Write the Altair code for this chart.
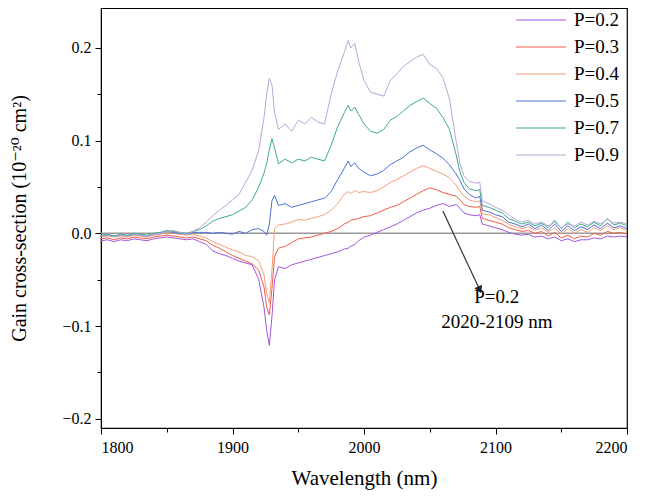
import altair as alt
import pandas as pd

wavelength = [1800,1805,1810,1815,1820,1825,1830,1835,1840,1845,1850,1855,1860,1865,1870,1875,
              1880,1885,1890,1895,1900,1905,1910,1915,1920,
              1924,1926,1928,1930,1932,1935,
              1940,1945,1950,1955,1960,1965,1970,1975,1980,1985,
              1988,1990,1993,1996,
              2000,2005,2010,2015,2020,2025,2030,2035,2040,2045,2050,2055,2060,2065,2070,
              2073,2076,2080,2085,2088,2090,
              2095,2100,2105,2110,2115,2120,2125,2130,2135,2140,2145,2150,2155,2160,2165,2170,2175,2180,2185,2190,2195,2200]

p09 = [-0.003,-0.002,-0.004,-0.002,-0.003,-0.001,-0.002,-0.003,-0.001,0.000,0.002,0.003,0.001,-0.001,0.002,0.006,
       0.012,0.019,0.025,0.030,0.036,0.042,0.055,0.068,0.090,
       0.125,0.150,0.167,0.160,0.130,0.112,
       0.118,0.110,0.122,0.118,0.125,0.120,0.118,0.150,0.175,0.195,
       0.208,0.200,0.205,0.185,
       0.165,0.152,0.150,0.148,0.165,0.172,0.180,0.185,0.190,0.193,0.182,0.178,0.168,0.145,0.100,
       0.075,0.062,0.056,0.054,0.055,0.035,
       0.032,0.028,0.025,0.020,0.015,0.012,0.014,0.010,0.012,0.008,0.012,0.006,0.010,0.008,0.012,0.009,0.013,0.010,0.015,0.011,0.012,0.010]

p07 = [-0.002,-0.001,-0.003,-0.001,-0.002,0.000,-0.001,-0.002,0.000,0.001,0.003,0.002,0.001,0.000,0.002,0.004,
       0.008,0.013,0.016,0.018,0.020,0.024,0.028,0.036,0.050,
       0.065,0.075,0.090,0.102,0.092,0.075,
       0.080,0.076,0.080,0.078,0.082,0.080,0.078,0.095,0.115,0.130,
       0.138,0.132,0.136,0.128,
       0.118,0.110,0.108,0.112,0.122,0.126,0.132,0.138,0.142,0.146,0.140,0.135,0.125,0.112,0.085,
       0.066,0.055,0.048,0.046,0.047,0.030,
       0.028,0.025,0.022,0.016,0.013,0.010,0.012,0.008,0.011,0.006,0.014,0.005,0.012,0.006,0.010,0.007,0.012,0.008,0.016,0.009,0.011,0.008]

p05 = [-0.003,-0.002,-0.003,-0.002,-0.003,-0.001,-0.002,-0.003,-0.001,0.000,0.002,0.001,0.000,-0.001,0.001,0.001,
       0.001,0.000,0.001,0.000,-0.001,0.002,0.000,0.004,0.005,
       0.002,-0.002,0.010,0.035,0.041,0.030,
       0.032,0.028,0.030,0.032,0.034,0.036,0.038,0.045,0.058,0.070,
       0.078,0.072,0.076,0.070,
       0.066,0.062,0.064,0.068,0.074,0.078,0.082,0.088,0.092,0.095,0.090,0.086,0.081,0.074,0.064,
       0.057,0.048,0.042,0.038,0.040,0.025,
       0.023,0.020,0.018,0.012,0.010,0.007,0.010,0.005,0.009,0.003,0.010,0.002,0.008,0.003,0.007,0.004,0.009,0.005,0.011,0.006,0.008,0.005]

p04 = [-0.004,-0.003,-0.004,-0.003,-0.004,-0.002,-0.003,-0.004,-0.002,-0.001,0.001,0.000,-0.001,-0.002,-0.001,-0.003,
       -0.005,-0.009,-0.012,-0.015,-0.018,-0.020,-0.024,-0.025,-0.030,
       -0.045,-0.065,-0.075,-0.040,0.005,0.009,
       0.010,0.012,0.015,0.014,0.016,0.018,0.020,0.025,0.032,0.042,
       0.045,0.043,0.046,0.044,
       0.045,0.044,0.046,0.050,0.055,0.058,0.062,0.066,0.070,0.073,0.070,0.067,0.064,0.060,0.052,
       0.046,0.040,0.036,0.034,0.035,0.021,
       0.020,0.017,0.014,0.010,0.007,0.005,0.007,0.003,0.006,0.001,0.006,-0.001,0.005,0.000,0.004,0.001,0.006,0.003,0.008,0.004,0.006,0.003]

p03 = [-0.006,-0.005,-0.007,-0.005,-0.006,-0.004,-0.005,-0.006,-0.004,-0.003,-0.002,-0.003,-0.004,-0.005,-0.004,-0.006,
       -0.008,-0.013,-0.016,-0.020,-0.024,-0.027,-0.030,-0.033,-0.040,
       -0.058,-0.080,-0.088,-0.060,-0.025,-0.016,
       -0.014,-0.010,-0.006,-0.005,-0.004,-0.002,0.000,0.002,0.005,0.010,
       0.012,0.014,0.015,0.016,
       0.018,0.019,0.022,0.025,0.028,0.030,0.034,0.038,0.042,0.046,0.049,0.047,0.044,0.042,0.040,
       0.036,0.031,0.029,0.028,0.029,0.016,
       0.014,0.012,0.010,0.006,0.004,0.002,0.003,0.000,0.002,-0.003,0.001,-0.005,-0.002,-0.006,-0.003,-0.004,0.000,-0.002,0.002,0.000,0.001,-0.001]

p02 = [-0.008,-0.007,-0.009,-0.007,-0.008,-0.006,-0.007,-0.008,-0.006,-0.005,-0.004,-0.005,-0.006,-0.007,-0.006,-0.009,
       -0.012,-0.019,-0.022,-0.024,-0.027,-0.030,-0.032,-0.034,-0.050,
       -0.080,-0.105,-0.121,-0.090,-0.050,-0.036,
       -0.038,-0.034,-0.032,-0.030,-0.028,-0.026,-0.024,-0.022,-0.020,-0.017,
       -0.016,-0.014,-0.012,-0.008,
       -0.004,-0.002,0.001,0.004,0.007,0.010,0.014,0.018,0.022,0.025,0.027,0.030,0.032,0.029,0.031,
       0.027,0.022,0.020,0.019,0.020,0.010,
       0.008,0.006,0.004,0.001,-0.001,-0.002,-0.001,-0.004,-0.003,-0.006,-0.004,-0.008,-0.006,-0.009,-0.007,-0.007,-0.005,-0.006,-0.003,-0.004,-0.003,-0.004]

series_names = ["P=0.2", "P=0.3", "P=0.4", "P=0.5", "P=0.7", "P=0.9"]
series_values = [p02, p03, p04, p05, p07, p09]
series_colors = ["#a455e0", "#f05a4a", "#f4a07a", "#4a6fd8", "#3aaa90", "#b6a8d8"]

x_major = [1800, 1900, 2000, 2100, 2200]
x_minor = [1850, 1950, 2050, 2150]
y_major = [-0.2, -0.1, 0.0, 0.1, 0.2]
y_minor = [-0.15, -0.05, 0.05, 0.15]

arrow_x = [2060]
arrow_y = [0.024]
arrow_x2 = [2088]
arrow_y2 = [-0.061]
note_lines = ["P=0.2", "2020-2109 nm"]
note_x = [2101, 2101]
note_y = [-0.069, -0.096]

rows = []
for name, vals in zip(series_names, series_values):
    for w, v in zip(wavelength, vals):
        rows.append({"wl": w, "g": v, "series": name})
df = pd.DataFrame(rows)

FONT = "Liberation Serif, Times New Roman, Times, DejaVu Serif, serif"
xdom = [1800, 2200]
ydom = [-0.21, 0.243]

xs = alt.Scale(domain=xdom, nice=False, zero=False)
ys = alt.Scale(domain=ydom, nice=False, zero=False)

x_axis = alt.Axis(values=x_major, format="d", title="Wavelength (nm)", grid=False,
                  tickSize=6, labelFontSize=16, titleFontSize=21, titlePadding=12,
                  labelPadding=5, orient="bottom", labelFont=FONT, titleFont=FONT)
y_axis = alt.Axis(values=y_major, format=".1f", title="Gain cross-section (10⁻²⁰ cm²)", grid=False,
                  tickSize=6, labelFontSize=16, titleFontSize=20, titlePadding=32,
                  labelPadding=4, orient="left", labelFont=FONT, titleFont=FONT)

zero = alt.Chart(pd.DataFrame({"z": [0.0]})).mark_rule(color="#9a9a9a", strokeWidth=1.5).encode(
    y=alt.Y("z:Q", scale=ys, axis=y_axis)
)

lines = alt.Chart(df).mark_line(strokeWidth=1).encode(
    x=alt.X("wl:Q", scale=xs, axis=x_axis),
    y=alt.Y("g:Q", scale=ys, axis=y_axis),
    color=alt.Color("series:N",
                    scale=alt.Scale(domain=series_names, range=series_colors),
                    sort=series_names,
                    legend=alt.Legend(title=None, orient="none", legendX=429, legendY=1,
                                      symbolType="M-2.5,0H2.5", symbolSize=400, symbolStrokeWidth=1.2,
                                      labelFontSize=19, labelOffset=22, rowPadding=6,
                                      labelFont=FONT, labelColor="black")),
    detail="series:N",
    order="wl:Q",
)

arrow_df = pd.DataFrame({"x": arrow_x, "y": arrow_y, "x2": arrow_x2, "y2": arrow_y2})
arrow_line = alt.Chart(arrow_df).mark_rule(color="#333333", strokeWidth=1.2).encode(
    x=alt.X("x:Q", scale=xs), y=alt.Y("y:Q", scale=ys), x2="x2:Q", y2="y2:Q"
)
arrow_head = alt.Chart(arrow_df).mark_point(shape="triangle-up", filled=True, color="#222222",
                                            size=70, angle=155, opacity=1).encode(
    x=alt.X("x2:Q", scale=xs), y=alt.Y("y2:Q", scale=ys)
)

note_df = pd.DataFrame({"t": note_lines, "x": note_x, "y": note_y})
note = alt.Chart(note_df).mark_text(font=FONT, fontSize=19, color="black", align="center",
                                    baseline="middle").encode(
    x=alt.X("x:Q", scale=xs), y=alt.Y("y:Q", scale=ys), text="t:N"
)

minor_df = pd.DataFrame({"x": [2000], "y": [0.0]})
minor = alt.Chart(minor_df).mark_point(opacity=0).encode(
    x=alt.X("x:Q", scale=xs, axis=alt.Axis(values=x_minor, labels=False, title=None, tickSize=4,
                                              grid=False, orient="bottom", domain=False)),
    y=alt.Y("y:Q", scale=ys, axis=alt.Axis(values=y_minor, labels=False, title=None, tickSize=4,
                                              grid=False, orient="left", domain=False)),
)

main = alt.layer(zero, lines, arrow_line, arrow_head, note)

chart = alt.layer(main, minor).resolve_axis(x="independent", y="independent").properties(
    width=526, height=420,
    autosize=alt.AutoSizeParams(type="none"),
    padding={"left": 93, "top": 0, "right": 33, "bottom": 72},
).configure(font=FONT).configure_axis(
    labelFont=FONT, titleFont=FONT, labelColor="black", titleColor="black",
    domainColor="black", tickColor="black", domainWidth=1, tickWidth=1,
    titleFontWeight="normal"
).configure_view(stroke="black", strokeWidth=1.2).configure_legend(
    labelFont=FONT
)

chart.save("out.html", embed_options={"renderer": "svg", "actions": False})
